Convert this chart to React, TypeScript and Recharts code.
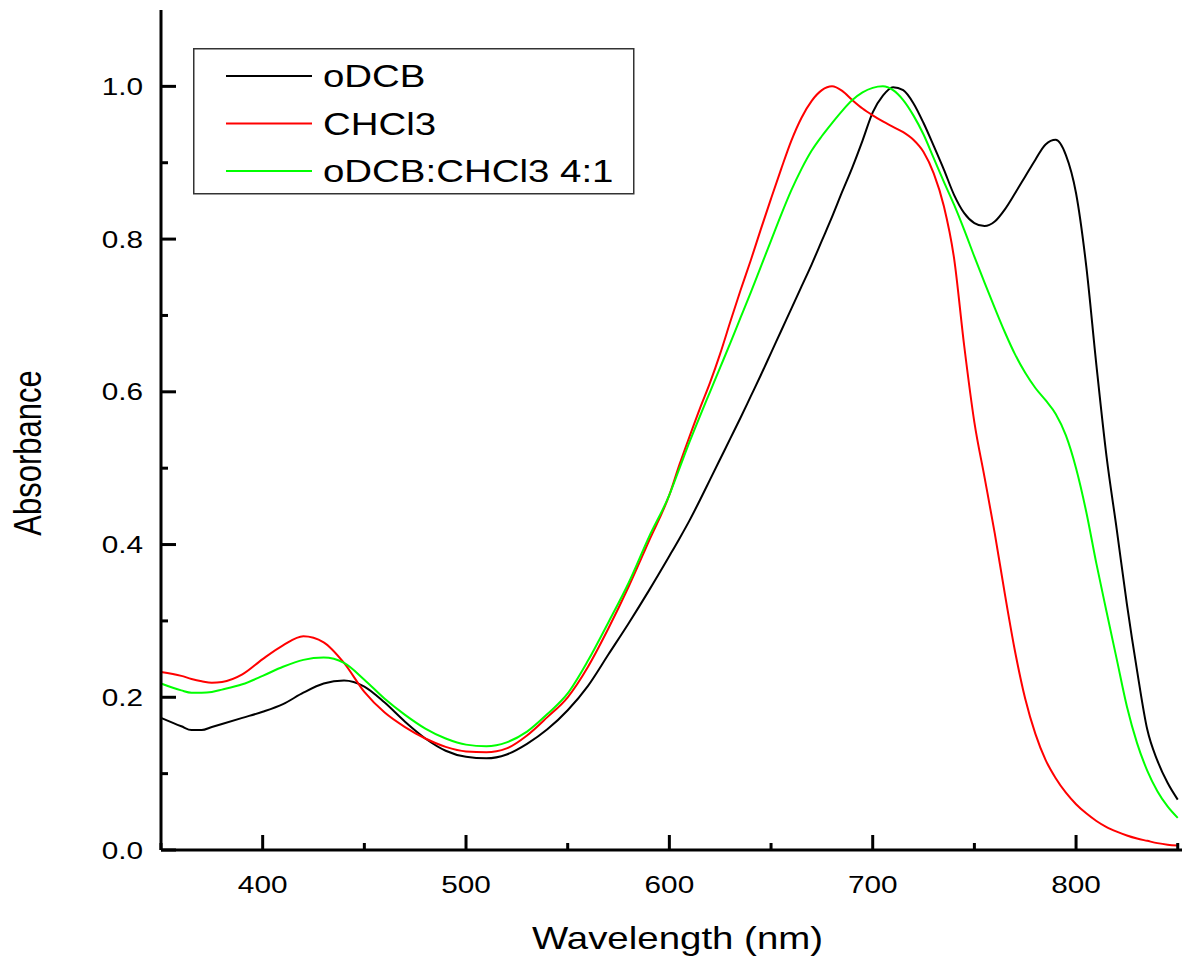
import React from 'react';
import { LineChart, Line, XAxis, YAxis, Legend, Label } from 'recharts';

// wavelength grid (nm) shared by the three spectra
const wavelengths = [
  350, 360, 365, 370, 375, 380, 390, 400, 410, 420, 430, 440, 450, 460, 470, 480, 490, 500,
  510, 520, 530, 540, 550, 560, 570, 580, 590, 600, 605, 610, 615, 620, 625, 630, 635, 640,
  645, 650, 655, 660, 665, 670, 675, 680, 685, 690, 695, 700, 705, 710, 715, 720, 725, 730,
  735, 740, 745, 750, 755, 760, 765, 770, 775, 780, 785, 790, 795, 800, 805, 810, 815, 820,
  825, 830, 835, 840, 845, 850,
];

const oDCB = [
  0.173, 0.162, 0.157, 0.157, 0.161, 0.165, 0.173, 0.181, 0.191, 0.206, 0.218, 0.222, 0.214, 0.193, 0.168, 0.146, 0.130, 0.122,
  0.120, 0.125, 0.139, 0.158, 0.183, 0.215, 0.256, 0.297, 0.340, 0.385, 0.408, 0.432, 0.458, 0.485, 0.512, 0.539, 0.566, 0.594,
  0.622, 0.651, 0.680, 0.709, 0.738, 0.767, 0.798, 0.829, 0.862, 0.894, 0.929, 0.966, 0.988, 0.999, 0.995, 0.978, 0.952, 0.922,
  0.891, 0.858, 0.834, 0.821, 0.817, 0.823, 0.839, 0.860, 0.882, 0.904, 0.924, 0.930, 0.910, 0.860, 0.765, 0.635, 0.515, 0.420,
  0.322, 0.235, 0.158, 0.117, 0.088, 0.066,
];

const chcl3 = [
  0.233, 0.228, 0.224, 0.221, 0.219, 0.220, 0.230, 0.250, 0.268, 0.280, 0.272, 0.245, 0.207, 0.180, 0.161, 0.146, 0.135, 0.129,
  0.128, 0.133, 0.150, 0.174, 0.200, 0.240, 0.290, 0.345, 0.405, 0.465, 0.505, 0.542, 0.578, 0.612, 0.650, 0.692, 0.733, 0.772,
  0.813, 0.853, 0.892, 0.929, 0.959, 0.981, 0.995, 1.000, 0.994, 0.982, 0.971, 0.962, 0.954, 0.947, 0.940, 0.930, 0.914, 0.886,
  0.843, 0.775, 0.660, 0.560, 0.488, 0.415, 0.335, 0.260, 0.198, 0.152, 0.118, 0.094, 0.075, 0.060, 0.048, 0.038, 0.030, 0.024,
  0.019, 0.015, 0.012, 0.009, 0.007, 0.006,
];

const mix41 = [
  0.218, 0.209, 0.206, 0.206, 0.207, 0.210, 0.217, 0.228, 0.240, 0.249, 0.252, 0.245, 0.223, 0.198, 0.177, 0.159, 0.146, 0.138,
  0.136, 0.141, 0.155, 0.178, 0.205, 0.248, 0.298, 0.350, 0.410, 0.465, 0.500, 0.535, 0.568, 0.600, 0.632, 0.664, 0.697, 0.730,
  0.764, 0.798, 0.832, 0.864, 0.892, 0.916, 0.935, 0.952, 0.968, 0.982, 0.992, 0.998, 1.000, 0.995, 0.982, 0.962, 0.937, 0.906,
  0.875, 0.845, 0.812, 0.777, 0.743, 0.710, 0.678, 0.649, 0.625, 0.605, 0.589, 0.571, 0.543, 0.500, 0.443, 0.375, 0.312, 0.250,
  0.188, 0.140, 0.104, 0.077, 0.057, 0.042,
];

const xTicks = [350, 400, 450, 500, 550, 600, 650, 700, 750, 800, 850];
const yTicks = [0, 0.1, 0.2, 0.3, 0.4, 0.5, 0.6, 0.7, 0.8, 0.9, 1.0];

const series = [
  { key: 'oDCB', name: 'oDCB', color: '#000000' },
  { key: 'chcl3', name: 'CHCl3', color: '#ff0000' },
  { key: 'mix41', name: 'oDCB:CHCl3 4:1', color: '#00ff00' },
];

const data = wavelengths.map((w, i) => ({ w, oDCB: oDCB[i], chcl3: chcl3[i], mix41: mix41[i] }));

const FONT = '"Liberation Sans", Arial, sans-serif';
const SX = 1.24; // the original is squeezed vertically, so text is drawn a bit wide
const AXIS = { stroke: '#000', strokeWidth: 3 };

const isMajorX = (v: number) => v % 100 === 0;
const isMajorY = (v: number) => Math.round(v * 10) % 2 === 0;

const BottomTick = (props: any) => {
  const { x, y, payload } = props;
  const major = isMajorX(payload.value);
  return (
    <g>
      <line x1={x} x2={x} y1={y} y2={y - (major ? 15 : 7)} stroke="#000" strokeWidth={3} />
      {major && (
        <text transform={`translate(${x},${y + 43}) scale(${SX},1)`} textAnchor="middle" fontSize={24} fontFamily={FONT} fill="#000">
          {payload.value}
        </text>
      )}
    </g>
  );
};

const TopTick = (props: any) => {
  const { x, y, payload } = props;
  const major = isMajorX(payload.value);
  return <line x1={x} x2={x} y1={y} y2={y + (major ? 15 : 7)} stroke="#000" strokeWidth={3} />;
};

const LeftTick = (props: any) => {
  const { x, y, payload } = props;
  const major = isMajorY(payload.value);
  return (
    <g>
      <line x1={x} x2={x + (major ? 15 : 7)} y1={y} y2={y} stroke="#000" strokeWidth={3} />
      {major && (
        <text transform={`translate(${x - 18},${y + 8.5}) scale(${SX},1)`} textAnchor="end" fontSize={24} fontFamily={FONT} fill="#000">
          {payload.value.toFixed(1)}
        </text>
      )}
    </g>
  );
};

const RightTick = (props: any) => {
  const { x, y, payload } = props;
  const major = isMajorY(payload.value);
  return <line x1={x} x2={x - (major ? 15 : 7)} y1={y} y2={y} stroke="#000" strokeWidth={3} />;
};

const XTitle = (props: any) => {
  const { x, y, width } = props.viewBox;
  return (
    <text transform={`translate(${x + width / 2},${y + 99}) scale(${SX},1)`} textAnchor="middle" fontSize={31} fontFamily={FONT} fill="#000">
      Wavelength (nm)
    </text>
  );
};

const YTitle = (props: any) => {
  const { x, y, height } = props.viewBox;
  return (
    <text
      transform={`translate(${x + 28},${y + height / 2 + 23}) rotate(-90) scale(1,${SX})`}
      textAnchor="middle"
      dy="0.35em"
      fontSize={31}
      fontFamily={FONT}
      fill="#000"
    >
      Absorbance
    </text>
  );
};

const LegendBox = () => (
  <svg width={442} height={147} style={{ display: 'block' }}>
    <rect x={0.75} y={0.75} width={440} height={145} fill="#fff" stroke="#333" strokeWidth={1.5} />
    {series.map((s, i) => {
      const cy = 28 + i * 47.5;
      return (
        <g key={s.key}>
          <line x1={33} x2={119} y1={cy} y2={cy} stroke={s.color} strokeWidth={2} />
          <text transform={`translate(130,${cy + 11}) scale(${SX},1)`} fontSize={31} fontFamily={FONT} fill="#000">
            {s.name}
          </text>
        </g>
      );
    })}
  </svg>
);

export default function App() {
  return (
    <div style={{ position: 'absolute', left: 0, top: 0, width: 1182, height: 960, overflow: 'hidden', background: '#fff' }}>
      <LineChart width={1200} height={960} data={data} margin={{ top: 10, right: 6, bottom: 0, left: 0 }}>
        <XAxis
          xAxisId="bottom"
          dataKey="w"
          type="number"
          domain={[350, 858]}
          ticks={xTicks}
          height={110}
          axisLine={AXIS}
          tickLine={false}
          tickSize={0}
          tickMargin={0}
          tick={BottomTick}
          interval={0}
        >
          <Label content={XTitle} />
        </XAxis>
        <XAxis
          xAxisId="top"
          orientation="top"
          dataKey="w"
          type="number"
          domain={[350, 858]}
          ticks={xTicks}
          height={0}
          axisLine={AXIS}
          tickLine={false}
          tickSize={0}
          tickMargin={0}
          tick={TopTick}
          interval={0}
        />
        <YAxis
          yAxisId="left"
          type="number"
          domain={[0, 1.1]}
          ticks={yTicks}
          width={161}
          axisLine={AXIS}
          tickLine={false}
          tickSize={0}
          tickMargin={0}
          tick={LeftTick}
          interval={0}
        >
          <Label content={YTitle} />
        </YAxis>
        <YAxis
          yAxisId="right"
          orientation="right"
          type="number"
          domain={[0, 1.1]}
          ticks={yTicks}
          width={0}
          axisLine={AXIS}
          tickLine={false}
          tickSize={0}
          tickMargin={0}
          tick={RightTick}
          interval={0}
        />
        <Legend
          layout="horizontal"
          verticalAlign="middle"
          align="center"
          wrapperStyle={{ left: 193, top: 48, width: 442, height: 147 }}
          content={LegendBox}
        />
        {series.map((s) => (
          <Line
            key={s.key}
            xAxisId="bottom"
            yAxisId="left"
            type="monotone"
            dataKey={s.key}
            name={s.name}
            stroke={s.color}
            strokeWidth={2}
            dot={false}
            activeDot={false}
            isAnimationActive={false}
          />
        ))}
      </LineChart>
    </div>
  );
}
